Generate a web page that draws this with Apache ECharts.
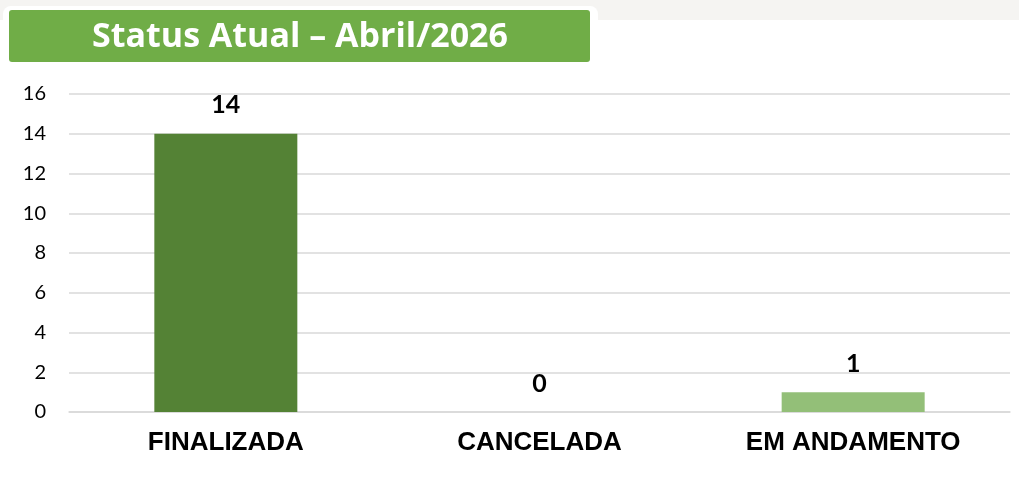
<!DOCTYPE html>
<html>
<head>
<meta charset="utf-8">
<script src="https://cdn.jsdelivr.net/npm/echarts@6/dist/echarts.min.js"></script>
<style>
  html, body { margin: 0; padding: 0; background: #ffffff; }
  #main { width: 1019px; height: 495px; }
</style>
</head>
<body>
<div id="main"></div>
<script>
// dados do gráfico
var categorias = ['FINALIZADA', 'CANCELADA', 'EM ANDAMENTO'];
var valores = [14, 0, 1];
var cores = ['#548235', '#70ad47', '#93bf78'];
var titulo = 'Status Atual – Abril/2026';

var myChart = echarts.init(document.getElementById('main'));

var option = {
  backgroundColor: '#ffffff',
  animation: false,
  graphic: [
    // faixa cinza no topo
    { type: 'rect', left: 0, top: 0, z: -10, shape: { width: 1019, height: 20 }, style: { fill: '#f5f4f2' } },
    // aba branca atrás do título
    { type: 'rect', left: 3, top: 6, z: -5, shape: { width: 595, height: 58, r: 8 }, style: { fill: '#ffffff' } },
    // caixa verde do título
    { type: 'rect', left: 9, top: 10, z: 1, shape: { width: 581, height: 52, r: 3 }, style: { fill: '#70ad47' } },
    {
      type: 'text', x: 300, y: 37, z: 2,
      style: {
        text: titulo, fill: '#ffffff', fontSize: 34, fontWeight: 'bold',
        fontFamily: 'Open Sans', align: 'center', verticalAlign: 'middle'
      }
    }
  ],
  grid: { left: 69, right: 9, top: 94, bottom: 83, containLabel: false },
  xAxis: {
    type: 'category',
    data: categorias,
    axisLine: { show: true, lineStyle: { color: '#d9d9d9', width: 1.5 } },
    axisTick: { show: false },
    axisLabel: {
      color: '#000000', fontSize: 26, fontWeight: 'bold',
      fontFamily: 'Liberation Sans', margin: 18
    }
  },
  yAxis: {
    type: 'value',
    min: 0, max: 16, interval: 2,
    axisLine: { show: false },
    axisTick: { show: false },
    splitLine: { lineStyle: { color: '#d9d9d9', width: 1.5 } },
    axisLabel: {
      color: '#000000', fontSize: 20, fontFamily: 'Lato', margin: 23
    }
  },
  series: [{
    type: 'bar',
    barWidth: 143,
    data: valores.map(function (v, i) {
      return { value: v, itemStyle: { color: cores[i] } };
    }),
    label: {
      show: true, position: 'top', distance: 16,
      color: '#000000', fontSize: 25, fontWeight: 'bold', fontFamily: 'Lato'
    }
  }]
};

myChart.setOption(option);
</script>
</body>
</html>
